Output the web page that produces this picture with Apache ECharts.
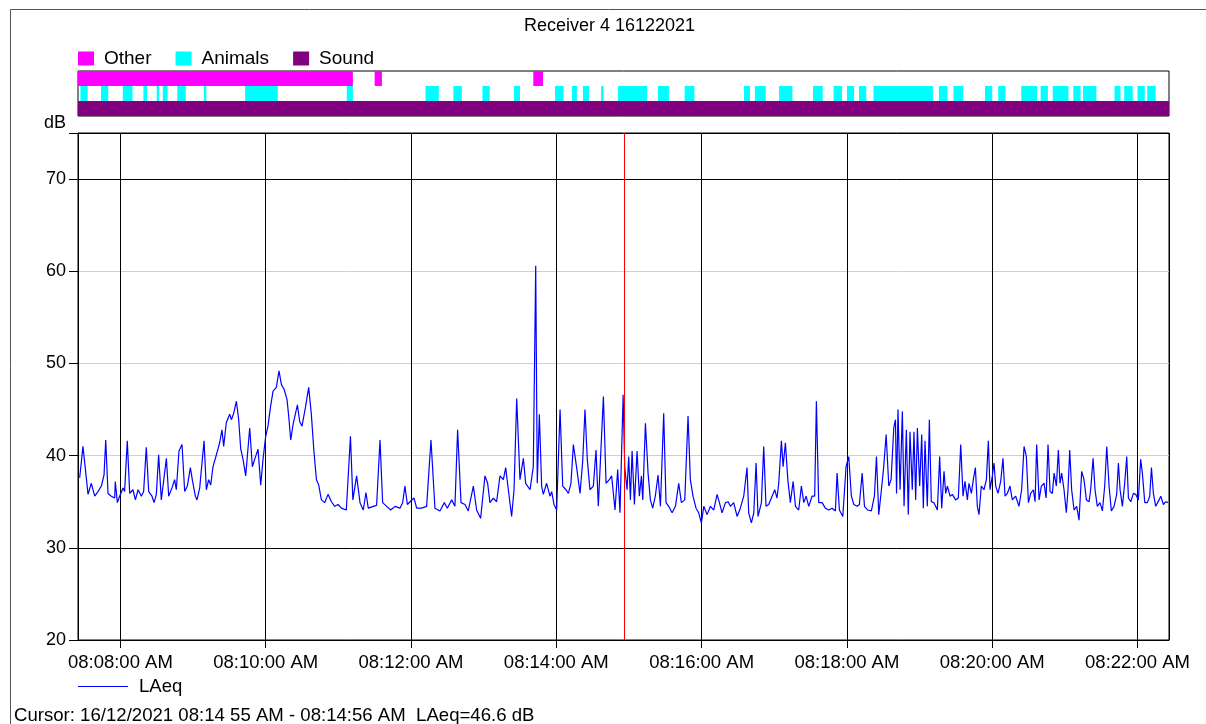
<!DOCTYPE html>
<html>
<head>
<meta charset="utf-8">
<script src="https://cdn.jsdelivr.net/npm/echarts@6/dist/echarts.min.js"></script>
<style>
html,body{margin:0;padding:0;background:#fff;}
#chart{width:1206px;height:724px;}
</style>
</head>
<body>
<div id="chart"></div>
<script>
// ---- Data ----
const day = '2021-12-16';
const startTime = '08:07:25';
const endTime = '08:22:26';
const cursorTime = '08:14:56';
const titleText = 'Receiver 4 16122021';
const cursorText = 'Cursor: 16/12/2021 08:14 55 AM - 08:14:56 AM  LAeq=46.6 dB';

// seconds after startTime
const laeqSec = [
1.4,4.1,8.3,11.0,13.8,16.5,19.3,21.5,22.9,24.8,27.5,30.3,30.8,32.5,34.4,37.2,38.5,40.7,42.7,45.4,
47.4,49.6,52.3,54.2,56.4,58.4,61.1,62.8,64.7,66.6,68.8,73.0,74.9,77.6,79.8,81.2,83.4,85.9,88.1,90.3,
92.8,94.4,96.9,98.3,100.5,104.1,106.0,107.9,109.6,111.5,114.3,117.0,118.9,120.3,122.5,125.3,126.7,128.6,130.8,132.7,
134.4,136.3,138.5,141.8,144.0,145.9,148.7,150.9,152.8,155.0,156.9,159.1,161.1,163.8,166.0,168.0,170.2,172.6,174.0,175.7,
177.6,179.0,181.2,183.1,185.0,187.8,190.5,192.7,194.7,196.9,198.8,201.0,203.7,206.5,209.3,212.0,214.8,217.5,221.6,223.0,
225.0,227.0,230.1,232.9,235.6,237.8,239.7,243.9,246.6,249.4,251.6,254.9,258.2,261.8,265.9,268.1,270.0,272.0,274.2,277.5,
279.7,283.8,287.9,291.5,294.8,298.9,302.5,305.0,308.6,311.3,313.5,316.3,319.6,322.3,326.5,329.2,332.5,336.1,338.3,340.2,
343.0,345.7,348.5,351.3,353.2,355.4,358.1,360.1,362.3,365.0,367.8,369.7,373.3,376.0,378.0,379.3,381.0,382.9,384.3,387.0,
389.8,391.2,393.1,395.3,398.1,400.3,403.0,405.0,407.1,409.1,411.8,414.6,416.8,418.7,420.6,422.8,425.6,427.8,429.7,433.9,
436.1,438.8,440.7,443.5,445.7,447.6,450.2,451.5,453.4,454.8,456.2,457.6,459.5,461.7,463.6,465.3,466.4,468.6,470.8,472.7,
474.6,476.8,479.0,481.0,483.7,485.6,487.8,490.6,493.4,496.1,498.3,501.1,503.8,505.7,507.9,510.4,512.6,514.8,516.8,519.5,
522.3,525.0,527.8,529.7,531.9,534.7,536.9,538.8,541.5,544.3,547.0,549.8,552.5,553.9,556.1,558.1,560.0,561.6,564.4,566.3,
568.2,570.4,573.2,575.4,577.3,578.7,580.9,582.3,584.2,586.2,588.3,590.6,592.5,595.2,597.4,599.4,601.3,603.5,606.2,608.4,
609.8,611.7,614.5,617.2,620.0,622.8,625.5,626.9,628.8,631.6,634.3,636.5,638.7,640.7,643.4,645.3,647.6,649.5,652.2,655.2,
657.7,659.4,661.3,663.5,665.4,667.4,669.6,671.5,673.7,675.1,676.0,677.2,678.9,680.8,682.2,684.1,685.7,687.1,689.0,690.4,
691.8,693.2,695.1,696.8,698.1,699.5,701.4,703.1,704.7,706.9,709.7,711.6,713.3,715.2,716.6,718.0,720.2,722.1,724.8,727.0,
729.0,730.9,732.5,734.5,735.8,737.8,739.4,741.1,742.7,744.1,746.0,748.2,750.2,751.8,753.2,755.1,756.5,757.9,759.8,762.0,
763.9,765.6,767.5,769.7,771.6,774.4,777.1,779.3,781.3,783.2,784.9,786.8,789.0,790.4,791.7,793.7,795.6,797.8,799.5,801.1,
802.8,804.7,806.1,808.0,809.6,811.0,812.4,814.3,816.2,817.6,819.0,820.6,822.6,824.8,826.7,828.9,830.8,832.8,835.0,836.3,
838.3,839.9,841.8,844.0,846.0,847.9,849.6,851.5,853.4,855.6,857.8,859.2,860.6,862.5,864.4,866.1,867.5,869.4,871.6,873.5,
875.7,877.6,879.0,881.0,883.1,885.1,886.5,888.1,890.0,892.8,894.2,896.4,898.3,900.2
];
const laeqDb = [
37.6,41.0,35.8,37.0,35.6,36.1,36.7,37.9,41.7,35.9,35.6,35.4,37.2,34.9,35.6,36.5,36.1,41.6,35.9,36.3,
35.2,36.3,35.6,36.1,40.9,36.1,35.6,34.9,35.8,40.1,35.2,39.7,35.6,36.5,37.4,36.3,40.5,41.2,36.1,36.7,
38.7,37.4,35.6,35.2,36.5,41.6,36.3,37.4,36.8,38.8,40.1,41.4,42.8,41.0,43.6,44.5,43.9,44.6,45.9,43.9,
40.7,39.6,37.8,43.0,38.8,39.6,40.7,36.8,39.6,42.1,43.2,45.4,47.0,47.4,49.2,47.7,47.2,46.1,44.3,41.7,
43.4,43.6,45.5,43.7,43.2,45.2,47.4,44.5,40.7,37.4,36.8,35.2,34.9,35.8,35.0,34.5,34.7,34.3,34.1,34.3,
42.1,35.2,37.8,34.9,34.1,36.0,34.3,34.5,34.6,41.7,34.9,34.5,34.1,34.5,34.3,34.9,36.7,34.7,35.0,35.4,
34.3,34.3,34.5,41.7,34.3,34.0,34.9,34.3,35.2,34.5,42.8,34.9,34.7,34.0,36.7,34.1,33.2,37.8,37.0,34.9,
35.4,35.0,37.8,37.4,38.7,36.3,33.4,36.3,46.2,37.4,39.7,37.0,36.3,38.8,60.6,37.0,44.5,36.7,35.8,37.0,
35.6,36.1,34.7,34.1,45.0,36.7,36.3,35.9,37.0,41.2,38.7,35.9,39.4,45.0,39.6,36.3,36.7,40.6,34.5,46.4,
37.0,37.4,37.8,34.1,38.5,33.8,46.6,38.8,36.3,39.9,35.2,40.5,34.7,40.5,35.6,37.8,35.2,43.5,38.1,35.2,
34.3,35.6,37.9,34.5,44.6,34.9,34.5,33.8,34.5,37.0,34.9,35.2,44.3,37.4,35.6,34.3,33.8,32.7,34.5,33.6,
34.5,34.1,35.8,34.9,33.8,34.9,35.0,34.5,34.9,33.4,34.3,35.6,38.7,33.8,32.7,33.8,39.2,33.4,34.9,41.0,
34.5,34.7,35.6,36.3,35.4,37.0,41.6,38.8,41.4,37.4,34.9,37.2,34.5,34.1,36.7,34.9,35.6,34.5,35.6,35.6,
45.9,34.9,34.9,34.3,34.1,34.3,34.0,38.1,34.1,33.4,38.8,39.9,35.6,34.7,34.5,34.7,38.1,34.5,34.1,34.0,
35.6,39.9,33.6,36.3,38.8,42.3,36.7,37.4,43.0,43.9,35.9,45.0,36.3,44.8,34.5,42.8,33.6,42.6,36.3,42.6,
35.2,43.0,36.7,42.3,34.3,41.6,34.5,43.9,35.0,34.9,34.1,39.9,34.3,38.3,35.9,36.7,35.6,35.8,35.2,35.4,
41.2,35.6,37.2,35.2,37.0,35.9,37.4,38.7,34.5,33.6,36.7,36.3,37.4,41.6,36.3,37.8,39.2,36.7,35.9,37.2,
39.7,35.6,35.9,36.7,35.2,35.6,34.5,36.3,41.0,39.9,34.9,35.9,36.3,35.0,41.2,35.2,36.7,37.0,35.4,41.2,
36.1,35.9,38.1,36.7,40.6,37.0,38.1,36.3,33.8,36.3,40.6,36.3,34.1,34.5,33.0,38.3,37.4,35.2,35.0,36.3,
39.7,36.3,34.5,34.9,34.0,36.7,41.0,36.7,34.0,34.5,35.8,39.2,36.3,34.5,37.0,39.9,35.4,35.0,35.9,35.8,
35.2,39.6,38.1,34.9,34.9,35.6,38.7,35.9,34.5,35.2,35.6,34.7,35.0,34.9
];

// event strip: [start, end]
const otherEvents = [['08:07:25','08:11:12'],['08:11:30','08:11:36'],['08:13:41','08:13:49']];
const animalEvents = [
['08:07:27','08:07:33'],['08:07:44','08:07:50'],['08:08:02','08:08:10'],['08:08:19','08:08:22'],
['08:08:30','08:08:32'],['08:08:35','08:08:39'],['08:08:47','08:08:54'],['08:09:09','08:09:11'],
['08:09:43','08:10:10'],['08:11:07','08:11:12'],['08:12:12','08:12:23'],['08:12:35','08:12:42'],
['08:12:59','08:13:05'],['08:13:25','08:13:30'],['08:13:59','08:14:06'],['08:14:13','08:14:17'],
['08:14:22','08:14:27'],['08:14:37','08:14:39'],['08:14:51','08:15:15'],['08:15:24','08:15:33'],
['08:15:46','08:15:54'],['08:16:35','08:16:40'],['08:16:44','08:16:53'],['08:17:04','08:17:15'],
['08:17:32','08:17:40'],['08:17:49','08:17:56'],['08:18:00','08:18:06'],['08:18:10','08:18:16'],
['08:18:22','08:19:11'],['08:19:16','08:19:23'],['08:19:28','08:19:36'],['08:19:54','08:20:00'],
['08:20:05','08:20:11'],['08:20:24','08:20:37'],['08:20:40','08:20:46'],['08:20:50','08:21:03'],
['08:21:07','08:21:13'],['08:21:15','08:21:26'],['08:21:41','08:21:46'],['08:21:49','08:21:56'],
['08:22:00','08:22:06'],['08:22:08','08:22:15']
];
const soundEvents = [['08:07:25','08:22:26']];
const eventRows = ['Sound','Animals','Other'];
const yMin = 20, yMax = 75, yStep = 10;

// ---- Build ----
const FONT = '"Liberation Sans", Arial, sans-serif';
const toMs = t => new Date(day + 'T' + t).getTime();
const baseMs = toMs(startTime);
const endMs = toMs(endTime);
const lineData = laeqSec.map((s, i) => [baseMs + s * 1000, laeqDb[i]]);
const evData = (arr, row) => arr.map(e => [toMs(e[0]), toMs(e[1]), eventRows.indexOf(row)]);
const pad = n => (n < 10 ? '0' : '') + n;
function fmtTime(v) {
  const d = new Date(v);
  let h = d.getHours();
  const ap = h >= 12 ? 'PM' : 'AM';
  h = h % 12 || 12;
  return pad(h) + ':' + pad(d.getMinutes()) + ':' + pad(d.getSeconds()) + ' ' + ap;
}
function renderItem(params, api) {
  const row = api.value(2);
  const s = api.coord([api.value(0), row]);
  const e = api.coord([api.value(1), row]);
  const h = api.size([0, 1])[1];
  const cs = params.coordSys;
  const shape = echarts.graphic.clipRectByRect(
    { x: s[0], y: s[1] - h / 2, width: e[0] - s[0], height: h },
    { x: cs.x, y: cs.y, width: cs.width, height: cs.height });
  return shape && { type: 'rect', shape: shape, style: { fill: api.visual('color') } };
}
function evSeries(name, color, arr) {
  return {
    name: name, type: 'custom', renderItem: renderItem, xAxisIndex: 0, yAxisIndex: 0,
    itemStyle: { color: color }, encode: { x: [0, 1], y: 2 }, data: evData(arr, name), silent: true
  };
}

const chart = echarts.init(document.getElementById('chart'), null, { renderer: 'canvas' });
chart.setOption({
  animation: false,
  textStyle: { fontFamily: FONT },
  title: [
    { text: titleText, left: 519, top: 12, textStyle: { fontSize: 18, fontWeight: 'normal', color: '#000', fontFamily: FONT } },
    { text: cursorText, left: 9, top: 701, textStyle: { fontSize: 18.6, fontWeight: 'normal', color: '#000', fontFamily: FONT } }
  ],
  legend: [
    { data: ['Other', 'Animals', 'Sound'], left: 73, top: 44, icon: 'rect', itemWidth: 16, itemHeight: 14, itemGap: 24,
      textStyle: { fontSize: 19, color: '#000', fontFamily: FONT, padding: [0, 0, 0, 5] } },
    { data: ['LAeq'], left: 73, top: 672, icon: 'rect', itemWidth: 50, itemHeight: 1.2,
      textStyle: { fontSize: 18.5, color: '#000', fontFamily: FONT, padding: [0, 0, 0, 6] } }
  ],
  graphic: [
    { type: 'rect', shape: { x: 10.5, y: 9.5, width: 1215, height: 730 }, style: { fill: 'none', stroke: '#555', lineWidth: 1 }, silent: true }
  ],
  grid: [
    { left: 78, right: 37, top: 71, height: 45, show: true, borderColor: '#000', borderWidth: 1, backgroundColor: '#fff' },
    { left: 78, right: 37, top: 133, bottom: 84, show: true, borderColor: '#000', borderWidth: 1 }
  ],
  xAxis: [
    { type: 'time', gridIndex: 0, min: baseMs, max: endMs, show: false },
    { type: 'time', gridIndex: 1, min: baseMs, max: endMs, minInterval: 150000, maxInterval: 150000,
      axisLine: { show: true, lineStyle: { color: '#000', width: 1 } },
      axisTick: { show: true, length: 8, lineStyle: { color: '#000' } },
      axisLabel: { color: '#000', fontSize: 18.5, fontFamily: FONT, margin: 13, hideOverlap: false,
        formatter: v => { const d = new Date(v); return (d.getSeconds() === 0 && d.getMinutes() % 2 === 0) ? fmtTime(v) : ''; } },
      splitLine: { show: true, lineStyle: { color: '#000', width: 1 } } }
  ],
  yAxis: [
    { type: 'category', gridIndex: 0, data: eventRows, show: false },
    { type: 'value', gridIndex: 1, min: yMin, max: yMax, interval: yStep,
      name: 'dB', nameLocation: 'end', nameGap: 1,
      nameTextStyle: { color: '#000', fontSize: 18, fontFamily: FONT, align: 'right', padding: [0, 12, 0, 0] },
      axisLine: { show: true, lineStyle: { color: '#000', width: 1 } },
      axisTick: { show: true, length: 9, lineStyle: { color: '#000' } },
      axisLabel: { color: '#000', fontSize: 18, fontFamily: FONT, margin: 12,
        formatter: v => (v === yMax ? '' : String(v)) },
      splitLine: { show: true, lineStyle: { color: ['#000', '#000', '#d0d0d0', '#d0d0d0', '#d0d0d0', '#000', '#000'], width: 1 } } }
  ],
  series: [
    evSeries('Other', '#ff00ff', otherEvents),
    evSeries('Animals', '#00ffff', animalEvents),
    evSeries('Sound', '#800080', soundEvents),
    {
      name: 'LAeq', type: 'line', xAxisIndex: 1, yAxisIndex: 1, data: lineData,
      showSymbol: false, symbol: 'none', color: '#0000ff',
      lineStyle: { color: '#0000ff', width: 1.2 }, silent: true,
      markLine: { silent: true, symbol: 'none', label: { show: false },
        lineStyle: { color: '#ff0000', width: 1, type: 'solid' },
        data: [{ xAxis: toMs(cursorTime) }] }
    }
  ]
});
</script>
</body>
</html>
